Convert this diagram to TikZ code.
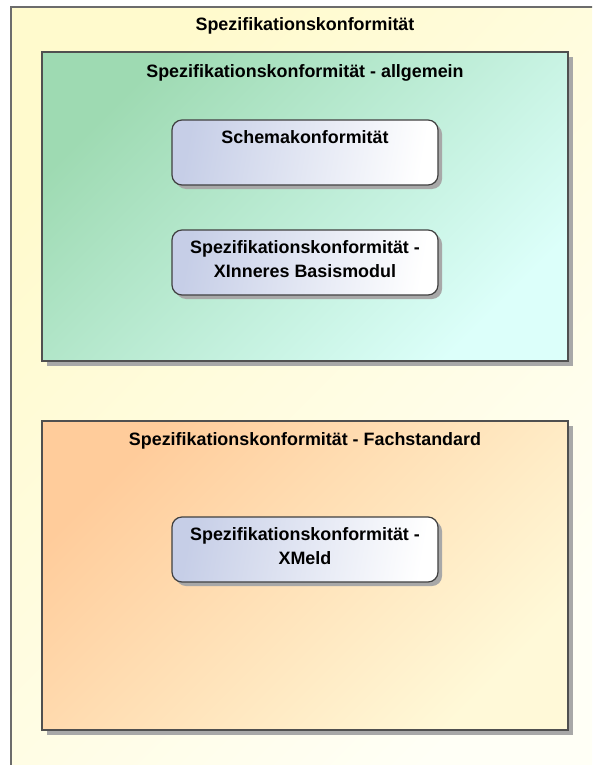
\documentclass[tikz,border=0pt]{standalone}
\usepackage{fontspec}
\setmainfont{Liberation Sans}
\usetikzlibrary{shadows}
\definecolor{outerA}{RGB}{255,250,205}
\definecolor{outerB}{RGB}{255,255,246}
\definecolor{greenA}{RGB}{158,218,178}
\definecolor{greenB}{RGB}{220,255,250}
\definecolor{orangeA}{RGB}{255,204,155}
\definecolor{orangeB}{RGB}{255,249,216}
\definecolor{nodeA}{RGB}{198,206,231}
\definecolor{nodeB}{RGB}{255,255,255}
\definecolor{shadowgray}{RGB}{168,168,168}
\definecolor{edgegray}{RGB}{80,80,80}
\tikzset{
  frame/.style={draw=edgegray, line width=1.4pt, anchor=north west, inner sep=0pt, outer sep=0pt,
    drop shadow={shadow xshift=5pt, shadow yshift=-5pt, fill=shadowgray, opacity=1}},
  outerframe/.style={draw=gray!85!black, line width=1.4pt, anchor=north west, inner sep=0pt, outer sep=0pt,
    top color=outerA, bottom color=outerB, shading angle=45},
  block/.style={draw=edgegray!80!black, line width=1.2pt, rounded corners=10pt, anchor=north west,
    minimum width=266pt, minimum height=65pt, inner sep=0pt, outer sep=0pt,
    left color=nodeA, right color=nodeB, shading angle=80,
    drop shadow={shadow xshift=4pt, shadow yshift=-4pt, fill=shadowgray, opacity=1}},
  ttl/.style={font=\fontsize{17.9}{23}\selectfont\bfseries, anchor=base, inner sep=0pt, align=center},
}
\begin{document}
\begin{tikzpicture}[x=1pt,y=-1pt]
\useasboundingbox (0,0) rectangle (592,765);
\clip (0,0) rectangle (592,765);
\node[outerframe, minimum width=588pt, minimum height=790pt] (outer) at (11,7) {};
\node[ttl] (outert) at (305,31) {Spezifikationskonformität};
% allgemein
\node[frame, top color=greenA, bottom color=greenB, shading angle=45, minimum width=526pt, minimum height=309pt] (gen) at (42,52) {};
\node[ttl] (gent) at (305,78) {Spezifikationskonformität - allgemein};
\node[block] (schema) at (172,120) {};
\node[ttl] (schemat) at (305,143) {Schemakonformität};
\node[block] (basis) at (172,230) {};
\node[ttl, anchor=base] (basist1) at (305,253) {Spezifikationskonformität -};
\node[ttl, anchor=base] (basist2) at (305,277) {XInneres Basismodul};
% Fachstandard
\node[frame, top color=orangeA, bottom color=orangeB, shading angle=45, minimum width=526pt, minimum height=309pt] (fach) at (42,421) {};
\node[ttl] (facht) at (305,445) {Spezifikationskonformität - Fachstandard};
\node[block] (xmeld) at (172,517) {};
\node[ttl] (xmeldt1) at (305,540) {Spezifikationskonformität -};
\node[ttl] (xmeldt2) at (305,564) {XMeld};
\end{tikzpicture}
\end{document}
